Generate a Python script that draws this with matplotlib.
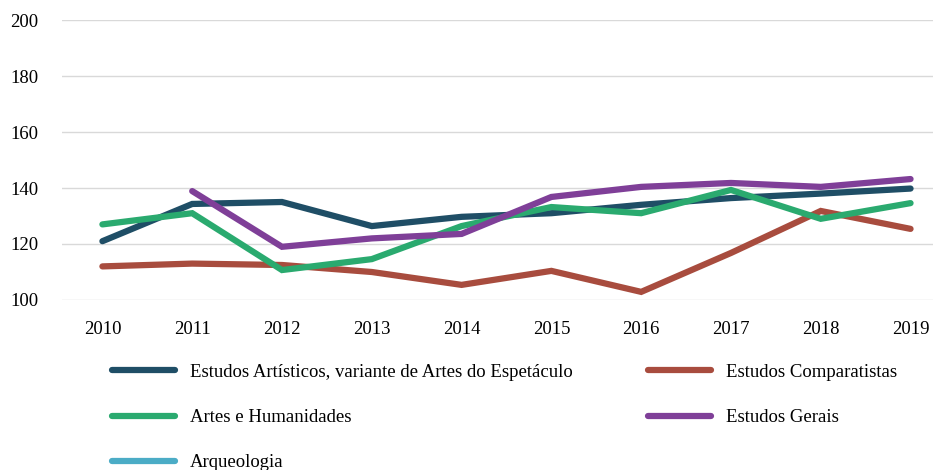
import matplotlib
matplotlib.use("Agg")
import matplotlib.pyplot as plt
import numpy as np

plt.rcParams['font.family'] = ['Liberation Serif', 'DejaVu Serif']

years = [2010, 2011, 2012, 2013, 2014, 2015, 2016, 2017, 2018, 2019]
estudos_artisticos = [121, 134.3, 135, 126.4, 129.7, 131, 134, 136.4, 138, 139.8]
estudos_comparatistas = [112, 113, 112.5, 110, 105.4, 110.4, 102.9, 116.8, 131.8, 125.4]
artes_humanidades = [127, 131, 110.7, 114.6, 126.4, 133.2, 131, 139.3, 129, 134.6]
estudos_gerais = [np.nan, 138.9, 119, 122, 123.6, 136.8, 140.4, 141.8, 140.4, 143.2]
arqueologia = [np.nan] * 10

series = [
    ("Estudos Artísticos, variante de Artes do Espetáculo", estudos_artisticos, "#1F4E66"),
    ("Estudos Comparatistas", estudos_comparatistas, "#A84C3E"),
    ("Artes e Humanidades", artes_humanidades, "#2AAA6F"),
    ("Estudos Gerais", estudos_gerais, "#7F3F98"),
    ("Arqueologia", arqueologia, "#4BACC6"),
]

fig = plt.figure(figsize=(9.33, 4.70), dpi=100)
ax = fig.add_axes([62/933, 170/470, (933-62)/933, 280/470])

handles = []
for name, vals, col in series:
    h, = ax.plot(years, vals, color=col, lw=4.5, solid_capstyle='round',
                 solid_joinstyle='miter', label=name)
    handles.append(h)

ax.set_ylim(100, 200)
ax.set_yticks([100, 120, 140, 160, 180, 200])
ax.set_xlim(2009.55, 2019.25)
ax.set_xticks(years)
ax.grid(axis='y', color='#d9d9d9', lw=1)
ax.set_axisbelow(True)
for s in ax.spines.values():
    s.set_visible(False)
ax.tick_params(length=0, labelsize=13.5, colors='black')
ax.tick_params(axis='x', pad=15)
ax.tick_params(axis='y', pad=17)

# row-major ordering for a 2-column legend
order = [0, 2, 4, 1, 3]
leg = fig.legend(handles=[handles[i] for i in order], loc='upper left',
                 bbox_to_anchor=(108/933, 1 - 360/470),
                 ncol=2, frameon=False, fontsize=13.5, handlelength=3.36,
                 handletextpad=0.8, columnspacing=4.0, labelspacing=1.5,
                 borderaxespad=0, borderpad=0.2)

fig.savefig("out.png", dpi=100)
